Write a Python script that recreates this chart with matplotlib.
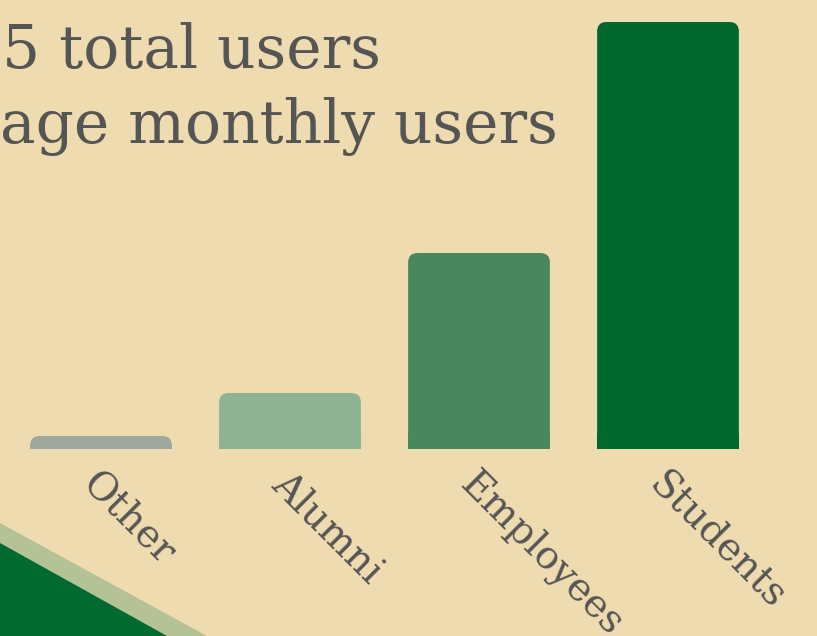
import matplotlib.pyplot as plt
from matplotlib.patches import FancyBboxPatch, Rectangle, Polygon

categories = ["Other", "Alumni", "Employees", "Students"]
users = [13, 56, 196, 427]
bar_colors = ["#9fa89f", "#8db394", "#4a8660", "#00672f"]
header_lines = ["5 total users", "age monthly users"]

bg = "#efdbb0"
text_color = "#555555"

fig = plt.figure(figsize=(8.17, 6.36), dpi=100)
fig.patch.set_facecolor(bg)

# decorative corner in the bottom left
fig.patches.append(Polygon([(0, 1 - 523 / 636), (207 / 817, 0), (0, 0)], closed=True,
                           transform=fig.transFigure, facecolor="#b4c296", edgecolor="none"))
fig.patches.append(Polygon([(0, 1 - 543 / 636), (167 / 817, 0), (0, 0)], closed=True,
                           transform=fig.transFigure, facecolor="#006a30", edgecolor="none"))

# header text (cut off on the left in the original)
fig.text(2 / 817, 1 - 68 / 636, header_lines[0], fontsize=43, family="DejaVu Serif",
         color=text_color, ha="left", va="baseline")
fig.text(0.5 / 817, 1 - 143 / 636, header_lines[1], fontsize=43, family="DejaVu Serif",
         color=text_color, ha="left", va="baseline")

ax = fig.add_axes([0, 1 - 449 / 636, 1, 449 / 636])
ax.set_facecolor("none")
ax.set_xlim(-101 / 189, 716 / 189)
ax.set_ylim(0, 449)

x = list(range(len(categories)))
bars = ax.bar(x, users, width=0.75, color=bar_colors)

# rounded top corners
for rect, col in zip(bars, bar_colors):
    rect.set_visible(False)
    bx, by, bw, bh = rect.get_x(), rect.get_y(), rect.get_width(), rect.get_height()
    r = 0.05
    ax.add_patch(FancyBboxPatch((bx, by), bw, bh,
                                boxstyle=f"round,pad=0,rounding_size={r}",
                                mutation_aspect=189, facecolor=col, edgecolor="none"))
    ax.add_patch(Rectangle((bx, by), bw, min(bh / 2, 15), facecolor=col, edgecolor="none"))

ax.set_xticks(x)
ax.set_xticklabels(categories, rotation=-45, ha="left", va="top", rotation_mode="anchor",
                   fontsize=28, family="DejaVu Serif", color=text_color)
ax.tick_params(axis="x", length=0, pad=12)
ax.set_yticks([])
for s in ax.spines.values():
    s.set_visible(False)

fig.savefig("out.png", dpi=100, facecolor=bg)
